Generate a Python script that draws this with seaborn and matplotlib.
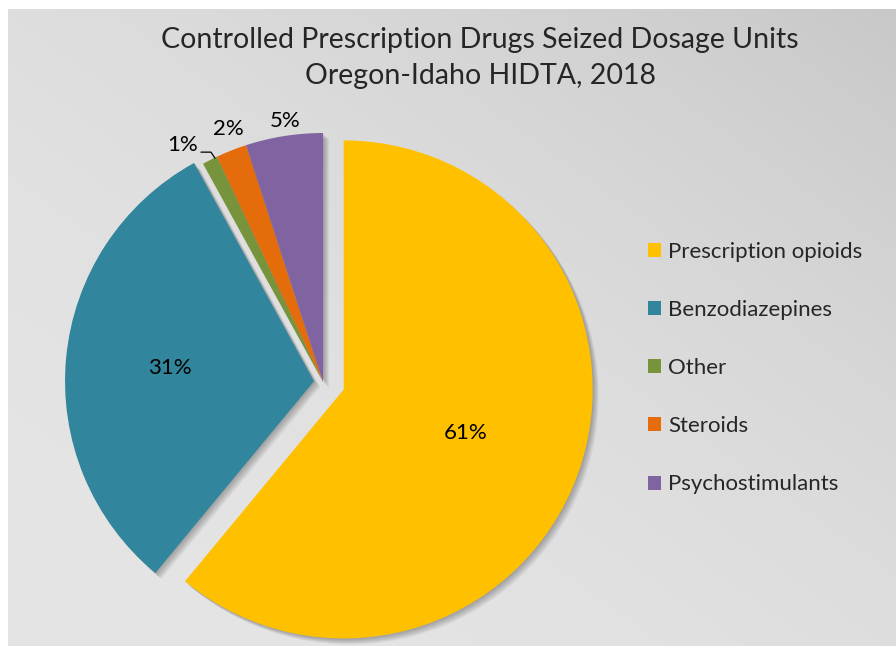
import numpy as np
import matplotlib
matplotlib.use("Agg")
import matplotlib.pyplot as plt
import seaborn as sns
from matplotlib.patches import Shadow

# Chart data
categories = ["Prescription opioids", "Benzodiazepines", "Other", "Steroids", "Psychostimulants"]
shares = [61, 31, 1, 2, 5]
slice_colors = ["#FFC000", "#31859C", "#77933C", "#E46C0A", "#8064A2"]
title_lines = ["Controlled Prescription Drugs Seized Dosage Units",
               "Oregon-Idaho HIDTA, 2018"]

sns.set_theme(style="white")
plt.rcParams["font.family"] = ["Lato", "DejaVu Sans"]
palette = sns.color_palette(slice_colors)

W, H = 896, 646
# tiny epsilon keeps the integer canvas size from rounding down
fig = plt.figure(figsize=((W + 1e-4) / 100, (H + 1e-4) / 100), dpi=100)
fig.patch.set_facecolor("white")

# Soft diagonal gray gradient behind the chart (white margin top and left)
bw, bh = W - 8, H - 9
gy, gx = np.mgrid[0:1:bh * 1j, 0:1:bw * 1j]
t = (gx + (1 - gy)) / 2.0  # rows run top to bottom
shade = (229 - 29 * t ** 2) / 255.0
fig.figimage(np.dstack([shade, shade, shade]), xo=8, yo=0, origin="upper", zorder=-5)

# Pie axes: one data unit per pixel
ax = fig.add_axes([0, 0, 1, 1])
ax.set_zorder(1)
ax.patch.set_alpha(0)
center = (323, H - 382)
radius = 249
explode = [22, 9, 0, 0, 0]  # pixel offsets of the pulled-out slices

wedges, _, autotexts = ax.pie(
    shares, colors=palette, explode=explode, startangle=90, counterclock=False,
    radius=radius, center=center, autopct=lambda p: f"{p:.0f}%",
    wedgeprops=dict(linewidth=0), textprops=dict(fontsize=16, color="black"),
)
ax.set_xlim(0, W)
ax.set_ylim(0, H)
ax.axis("off")

# Blurred drop shadow under each wedge
for w in wedges:
    w.set_zorder(3)
    for d in np.linspace(1, 6, 6):
        s = Shadow(w, d * 0.72, -d * 0.72, facecolor="black", edgecolor="none", alpha=0.05)
        s.set_zorder(2)
        ax.add_patch(s)

# Label placement: inside for big slices, outside for small ones
label_r = [0.52, 0.58, 1.105, 1.085, 1.06]
label_shift = [0, 0, 3.7, -1.1, -0.7]
for w, txt, lr, sh in zip(wedges, autotexts, label_r, label_shift):
    mid = np.deg2rad((w.theta1 + w.theta2) / 2 + sh)
    cx, cy = w.center
    txt.set_position((cx + lr * radius * np.cos(mid), cy + lr * radius * np.sin(mid)))
    txt.set_ha("center")
    txt.set_va("center")
    txt.set_zorder(5)

# Leader line for the smallest slice
w_small = wedges[2]
mid = np.deg2rad((w_small.theta1 + w_small.theta2) / 2)
ex = w_small.center[0] + radius * 1.0 * np.cos(mid) + 5
ey = w_small.center[1] + radius * 1.0 * np.sin(mid) + 2
ax.plot([ex - 14, ex - 4, ex], [ey + 6, ey + 6, ey], color="black", lw=0.9, zorder=5)

# Legend
ax.legend(wedges, categories, loc="center left", bbox_to_anchor=(648 / W, 1 - 368 / H),
          bbox_transform=fig.transFigure, frameon=False, fontsize=16,
          handlelength=0.6, handleheight=0.6, handletextpad=0.32,
          labelspacing=1.72, borderpad=0, borderaxespad=0)

# Two-line title
fig.text(480 / W, 1 - 40 / H, title_lines[0], ha="center", va="center", fontsize=20.5, zorder=5)
fig.text(480 / W, 1 - 76 / H, title_lines[1], ha="center", va="center", fontsize=20.5, zorder=5)

fig.savefig("out.png", dpi=100, facecolor=fig.get_facecolor())
